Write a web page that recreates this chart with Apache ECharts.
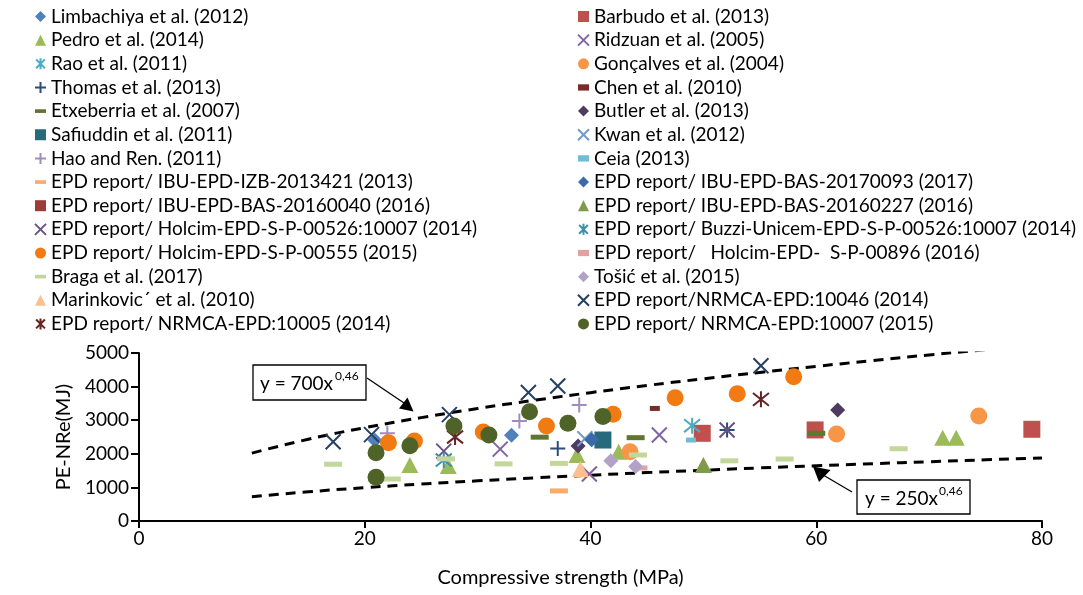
<!DOCTYPE html>
<html>
<head>
<meta charset="utf-8">
<script src="https://cdn.jsdelivr.net/npm/echarts@6/dist/echarts.min.js"></script>
<style>
  html, body { margin: 0; padding: 0; background: #fff; }
  #chart { width: 1083px; height: 595px; }
</style>
</head>
<body>
<div id="chart"></div>
<script>
// legend / stacking order (Excel series order)
var names = [
  'Limbachiya et al. (2012)', 'Barbudo et al. (2013)',
  'Pedro et al. (2014)', 'Ridzuan et al. (2005)',
  'Rao et al. (2011)', 'Gonçalves et al. (2004)',
  'Thomas et al. (2013)', 'Chen et al. (2010)',
  'Etxeberria et al. (2007)', 'Butler et al. (2013)',
  'Safiuddin et al. (2011)', 'Kwan et al. (2012)',
  'Hao and Ren. (2011)', 'Ceia (2013)',
  'EPD report/ IBU-EPD-IZB-2013421 (2013)', 'EPD report/ IBU-EPD-BAS-20170093 (2017)',
  'EPD report/ IBU-EPD-BAS-20160040 (2016)', 'EPD report/ IBU-EPD-BAS-20160227 (2016)',
  'EPD report/ Holcim-EPD-S-P-00526:10007 (2014)', 'EPD report/ Buzzi-Unicem-EPD-S-P-00526:10007 (2014)',
  'EPD report/ Holcim-EPD-S-P-00555 (2015)', 'EPD report/   Holcim-EPD-  S-P-00896 (2016)',
  'Braga et al. (2017)', 'Tošić et al. (2015)',
  'Marinkovic\u00B4 et al. (2010)', 'EPD report/NRMCA-EPD:10046 (2014)',
  'EPD report/ NRMCA-EPD:10005 (2014)', 'EPD report/ NRMCA-EPD:10007 (2015)'
];

// [compressive strength (MPa), PE-NRe (MJ)]
var limbachiya = [[20.9, 2400], [33.0, 2550]];
var barbudo = [[49.9, 2610], [59.9, 2710], [79.1, 2730]];
var pedro = [[24.0, 1670], [27.4, 1640], [38.8, 1965], [42.5, 2060], [71.2, 2480], [72.4, 2480]];
var ridzuan = [[32.0, 2140], [39.9, 1400], [46.1, 2560]];
var rao = [[49.0, 2835]];
var goncalves = [[43.5, 2060], [61.8, 2590], [74.4, 3125]];
var thomas = [[37.1, 2160], [52.1, 2710]];
var chen = [[45.7, 3350]];
var etxeberria = [[35.5, 2495], [44.0, 2480], [60.0, 2610]];
var butler = [[38.9, 2230], [61.9, 3300]];
var safiuddin = [[41.1, 2410]];
var kwan = [[39.5, 2450]];
var haoRen = [[22.0, 2610], [33.7, 2975], [39.0, 3450]];
var ceia = [[48.9, 2410]];
var ibuIzb = [[37.2, 895]];
var ibu20170093 = [[40.1, 2420]];
var ibu20160040 = [];
var ibu20160227 = [[50.0, 1670]];
var holcim00526 = [[27.0, 2080], [52.1, 2710]];
var buzzi = [[27.0, 1815]];
var holcim00555 = [[22.1, 2330], [24.4, 2380], [30.5, 2650], [36.1, 2830], [42.0, 3180], [47.5, 3670], [53.0, 3790], [58.0, 4290]];
var holcim00896 = [[44.6, 1580]];
var braga = [[17.2, 1690], [22.4, 1250], [27.2, 1850], [32.3, 1700], [37.2, 1715], [44.2, 1965], [52.3, 1790], [57.2, 1845], [67.3, 2150]];
var tosic = [[41.8, 1790], [44.0, 1620]];
var marinkovic = [[39.1, 1550]];
var nrmca10046 = [[17.2, 2360], [20.6, 2570], [27.5, 3165], [34.5, 3825], [37.1, 4020], [55.1, 4620]];
var nrmca10005 = [[28.0, 2500], [55.1, 3620]];
var nrmca10007 = [[21.0, 2030], [21.0, 1300], [24.0, 2240], [27.9, 2830], [31.0, 2560], [34.6, 3250], [38.0, 2910], [41.1, 3110]];

var allData = [limbachiya, barbudo, pedro, ridzuan, rao, goncalves, thomas, chen,
  etxeberria, butler, safiuddin, kwan, haoRen, ceia, ibuIzb, ibu20170093,
  ibu20160040, ibu20160227, holcim00526, buzzi, holcim00555, holcim00896,
  braga, tosic, marinkovic, nrmca10046, nrmca10005, nrmca10007];

// bounding curves y = 700x^0.46 and y = 250x^0.46
var curveX = [10, 15, 20, 25, 30, 35, 40, 45, 50, 55, 60, 65, 70, 75, 80];
var upperCurve = [2019, 2433, 2777, 3077, 3347, 3592, 3820, 4033, 4233, 4423, 4603, 4776, 4942, 5100, 5254];
var lowerCurve = [721, 869, 992, 1099, 1195, 1283, 1364, 1440, 1512, 1580, 1644, 1706, 1765, 1822, 1877];

var xTicks = [0, 20, 40, 60, 80];
var yTicks = [0, 1000, 2000, 3000, 4000, 5000];

// marker look per series: [shape, colour]
var looks = [
  ['diamond', '#4F81BD'], ['square', '#C0504D'],
  ['triangle', '#9BBB59'], ['cross', '#8064A2'],
  ['star', '#4BACC6'], ['circle', '#F79646'],
  ['plus', '#2C4D75'], ['short', '#772C2A'],
  ['dash', '#5F7530'], ['diamond', '#4D3B62'],
  ['square', '#276A7C'], ['cross', '#729ACA'],
  ['plus', '#A08CC0'], ['short', '#6FBDD3'],
  ['dash', '#F9AB6B'], ['diamond', '#3A6BA8'],
  ['square', '#9E3A37'], ['triangle', '#7F9A48'],
  ['cross', '#6A5287'], ['star', '#3A93AA'],
  ['circle', '#F27A12'], ['short', '#E0A3A1'],
  ['dash', '#C3D69B'], ['diamond', '#B3A2C7'],
  ['triangle', '#FAC090'], ['cross', '#254061'],
  ['star', '#632523'], ['circle', '#4F6228']
];

var shapes = {
  diamond: { symbol: 'diamond', size: 15, icon: 'diamond' },
  square: { symbol: 'rect', size: 17, icon: 'rect' },
  triangle: { symbol: 'triangle', size: [17, 16], icon: 'triangle' },
  circle: { symbol: 'circle', size: 17, icon: 'circle' },
  cross: { symbol: 'path://M0,0L10,10M10,0L0,10', size: 15, icon: 'path://M0,0L10,10M10,0L0,10', line: true },
  plus: { symbol: 'path://M5,0L5,10M0,5L10,5', size: 15, icon: 'path://M5,0L5,10M0,5L10,5', line: true },
  star: { symbol: 'path://M1,1L9,9M9,1L1,9M5,0L5,10', size: 16, icon: 'path://M1,1L9,9M9,1L1,9M5,0L5,10', line: true },
  dash: { symbol: 'rect', size: [18, 5], icon: 'path://M0,0h12v4h-12z' },
  short: { symbol: 'rect', size: [10, 5], icon: 'path://M0,0h7v4h-7z' }
};

var font = 'Lato';

var series = [];
var legendLeft = [];
var legendRight = [];
for (var i = 0; i < names.length; i++) {
  var sh = shapes[looks[i][0]];
  var col = looks[i][1];
  series.push({
    name: names[i],
    type: 'scatter',
    data: allData[i],
    symbol: sh.symbol,
    symbolSize: sh.size,
    itemStyle: sh.line
      ? { color: col, borderColor: col, borderWidth: 2, opacity: 1 }
      : { color: col, borderWidth: 0, opacity: 1 },
    emphasis: { disabled: true },
    z: 3
  });
  var item = { name: names[i], icon: sh.icon };
  if (i % 2 === 0) legendLeft.push(item); else legendRight.push(item);
}

function pairs(xs, ys) {
  var out = [];
  for (var k = 0; k < xs.length; k++) out.push([xs[k], ys[k]]);
  return out;
}

var curveStyle = { color: '#000', width: 3, type: [10, 7] };
series.push({
  type: 'line', data: pairs(curveX, upperCurve), smooth: true, symbol: 'none',
  lineStyle: curveStyle, silent: true, clip: true, z: 1
});
series.push({
  type: 'line', data: pairs(curveX, lowerCurve), smooth: true, symbol: 'none',
  lineStyle: curveStyle, silent: true, clip: true, z: 1
});

var legendText = { fontFamily: font, fontSize: 19, color: '#000', lineHeight: 18 };
function makeLegend(left, data) {
  return {
    orient: 'vertical', left: left, top: 7, itemWidth: 11, itemHeight: 11,
    itemGap: 4.65, padding: 0, data: data, textStyle: legendText,
    selectedMode: false, inactiveColor: '#000'
  };
}

var chart = echarts.init(document.getElementById('chart'));
chart.setOption({
  animation: false,
  backgroundColor: '#fff',
  legend: [makeLegend(34, legendLeft), makeLegend(577, legendRight)],
  grid: { left: 139, right: 41, top: 353, bottom: 74, outerBoundsMode: 'none' },
  xAxis: {
    type: 'value', min: xTicks[0], max: xTicks[xTicks.length - 1], interval: 20,
    name: 'Compressive strength (MPa)', nameLocation: 'middle', nameGap: 47,
    nameTextStyle: { fontFamily: font, fontSize: 20, color: '#000', padding: [0, 60, 0, 0] },
    axisLine: { lineStyle: { color: '#000', width: 2 } },
    axisTick: { show: true, length: 7, inside: false, lineStyle: { color: '#000', width: 2 } },
    axisLabel: { fontFamily: font, fontSize: 19, color: '#000', margin: 8 },
    splitLine: { show: false }
  },
  yAxis: {
    type: 'value', min: yTicks[0], max: yTicks[yTicks.length - 1], interval: 1000,
    name: 'PE-NRe(MJ)', nameLocation: 'middle', nameGap: 64, nameRotate: 90,
    nameTextStyle: { fontFamily: font, fontSize: 20, color: '#000' },
    axisLine: { show: true, lineStyle: { color: '#000', width: 2 } },
    axisTick: { show: true, length: 8, inside: false, lineStyle: { color: '#000', width: 2 } },
    axisLabel: {
      fontFamily: font, fontSize: 19, color: '#000', margin: 10,
      formatter: function (v) { return String(v); }
    },
    splitLine: { show: false }
  },
  graphic: [
    { type: 'line', shape: { x1: 367, y1: 378, x2: 404, y2: 403 }, style: { stroke: '#000', lineWidth: 1.3 }, z: 10 },
    { type: 'polygon', shape: { points: [[413.5, 411.5], [399, 408.5], [407.5, 397.5]] }, style: { fill: '#000' }, z: 10 },
    { type: 'rect', shape: { x: 253, y: 365, width: 113, height: 35 }, style: { fill: '#fff', stroke: '#000', lineWidth: 1.3 }, z: 10 },
    { type: 'text', x: 260, y: 384, style: { text: 'y = 700x', fontFamily: font, fontSize: 19, fill: '#000', verticalAlign: 'middle' }, z: 11 },
    { type: 'text', x: 335, y: 376, style: { text: '0,46', fontFamily: font, fontSize: 12, fill: '#000', verticalAlign: 'middle' }, z: 11 },

    { type: 'line', shape: { x1: 852, y1: 492, x2: 824, y2: 475.5 }, style: { stroke: '#000', lineWidth: 1.3 }, z: 10 },
    { type: 'polygon', shape: { points: [[813, 466.5], [819, 482], [830.5, 470]] }, style: { fill: '#000' }, z: 10 },
    { type: 'rect', shape: { x: 857, y: 480, width: 113, height: 34 }, style: { fill: '#fff', stroke: '#000', lineWidth: 1.3 }, z: 10 },
    { type: 'text', x: 865, y: 499, style: { text: 'y = 250x', fontFamily: font, fontSize: 19, fill: '#000', verticalAlign: 'middle' }, z: 11 },
    { type: 'text', x: 939, y: 491, style: { text: '0,46', fontFamily: font, fontSize: 12, fill: '#000', verticalAlign: 'middle' }, z: 11 }
  ],
  series: series
});
</script>
</body>
</html>
